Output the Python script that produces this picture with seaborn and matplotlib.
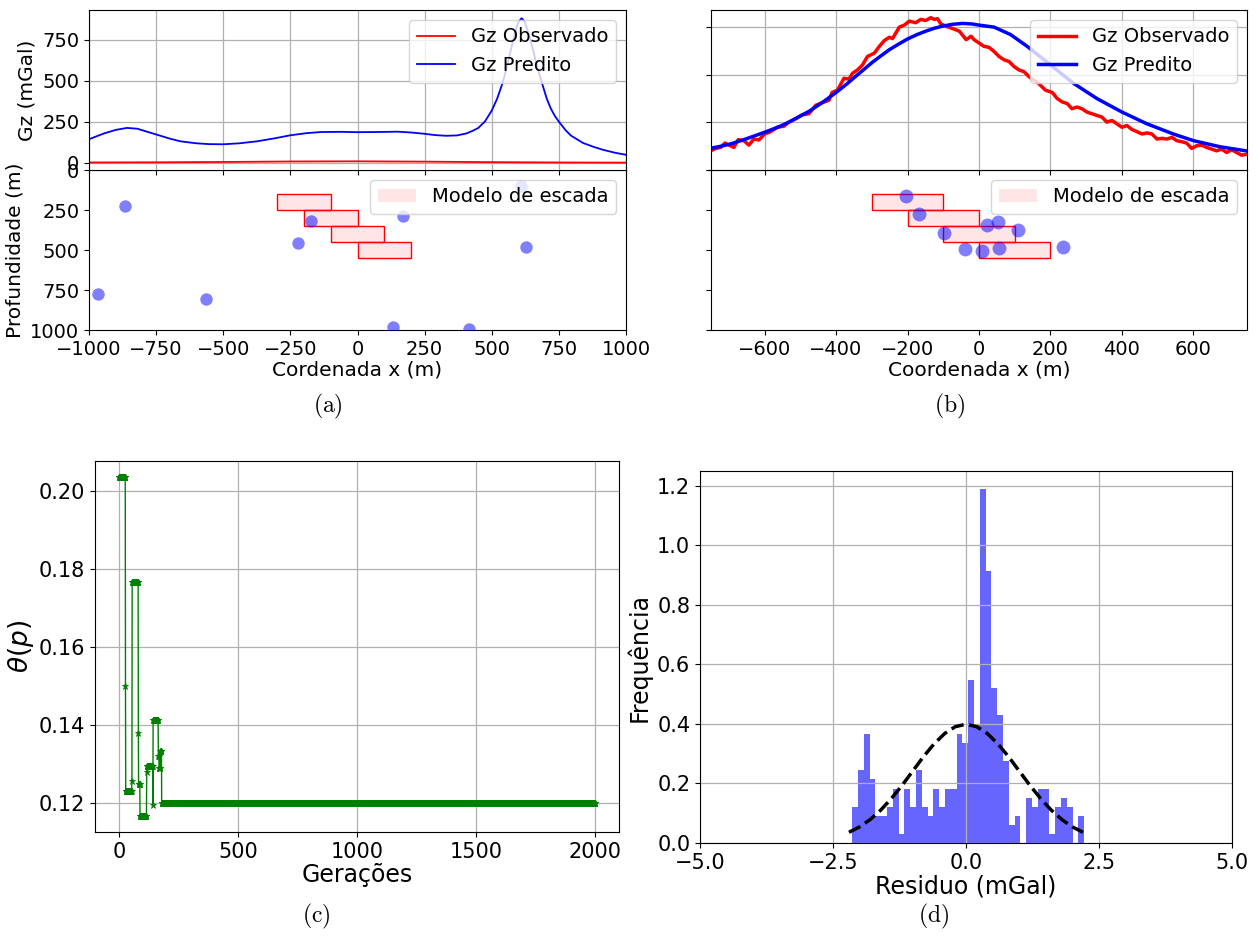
import numpy as np
import pandas as pd
import matplotlib
matplotlib.use('Agg')
import matplotlib.pyplot as plt
import seaborn as sns
from matplotlib.patches import Patch

# ---------------- (a) gravity profile, wide window ----------------
xa_pred = [-1000, -970, -943, -900, -859, -820, -750, -700, -659, -600, -553, -500,
           -440, -375, -310, -250, -190, -135, -60, 0, 75, 150, 200, 250, 290, 330,
           370, 405, 430, 450, 475, 500, 520, 540, 555, 570, 585, 598, 611, 622, 635,
           645, 658, 670, 690, 705, 720, 735, 750, 775, 795, 840, 880, 915, 960, 1000]
gz_pred_a = [143, 162, 179, 200, 212, 207, 172, 147, 130, 118, 113, 112,
             118, 130, 148, 167, 180, 187, 188, 186, 187, 189, 184, 176, 168, 164,
             166, 178, 195, 212, 252, 318, 390, 485, 575, 680, 785, 855, 882, 862, 800,
             745, 660, 580, 470, 390, 330, 285, 250, 198, 165, 120, 96, 78, 60, 48]
xa_obs = [-1000, -750, -500, -250, 0, 250, 500, 750, 1000]
gz_obs_a = [1, 2, 4, 7, 8, 6, 3, 1, 0]
xa_src = [-967, -866, -564, -222, -173, 169, 132, 415, 628, 609]
za_src = [777, 223, 809, 459, 318, 287, 981, 994, 484, 102]

# ---------------- (b) gravity profile, zoomed window ----------------
xb_pred = [-750, -720, -690, -650, -600, -560, -532, -476, -440, -400, -370, -345,
           -320, -298, -275, -251, -225, -200, -175, -149, -125, -102, -75, -46, -20,
           0, 42, 88, 135, 200, 265, 330, 400, 470, 544, 600, 674, 750]
gz_pred_b = [0.230, 0.252, 0.280, 0.330, 0.397, 0.455, 0.504, 0.617, 0.706, 0.816, 0.905, 0.986,
             1.065, 1.135, 1.200, 1.266, 1.325, 1.379, 1.423, 1.461, 1.492, 1.514, 1.533, 1.543, 1.537,
             1.525, 1.504, 1.426, 1.301, 1.106, 0.911, 0.752, 0.610, 0.486, 0.379, 0.309, 0.245, 0.200]
xb_obs = [-751, -737, -723, -711, -700, -686, -674, -658, -644, -630, -616, -600, -583, -564,
          -546, -532, -513, -494, -476, -457, -438, -420, -411, -396, -378, -364, -354, -340,
          -326, -312, -293, -279, -265, -251, -242, -223, -209, -195, -177, -163, -149, -135,
          -125, -116, -107, -93, -74, -55, -36, -22, -14, 0, 14, 28, 42, 56, 70, 84, 98, 112,
          126, 140, 153, 167, 186, 205, 219, 233, 247, 260, 274, 288, 302, 316, 330, 344, 358,
          372, 386, 400, 414, 428, 442, 456, 470, 484, 498, 512, 526, 540, 553, 567, 581, 595,
          609, 623, 637, 651, 665, 679, 693, 707, 721, 735, 750]
gz_obs_b = [0.202, 0.227, 0.238, 0.284, 0.262, 0.238, 0.319, 0.309, 0.262, 0.326, 0.316, 0.379,
            0.404, 0.450, 0.461, 0.504, 0.539, 0.582, 0.592, 0.681, 0.709, 0.734, 0.816, 0.840,
            0.965, 0.957, 1.018, 1.053, 1.106, 1.195, 1.230, 1.301, 1.362, 1.397, 1.383, 1.504,
            1.525, 1.567, 1.550, 1.585, 1.574, 1.603, 1.585, 1.592, 1.539, 1.514, 1.489, 1.461,
            1.372, 1.408, 1.372, 1.337, 1.301, 1.291, 1.248, 1.195, 1.160, 1.142, 1.089, 1.053,
            1.035, 0.982, 0.947, 0.911, 0.840, 0.816, 0.752, 0.716, 0.699, 0.645, 0.663, 0.645,
            0.610, 0.592, 0.574, 0.557, 0.504, 0.521, 0.486, 0.450, 0.468, 0.426, 0.404, 0.379,
            0.390, 0.379, 0.326, 0.333, 0.326, 0.344, 0.309, 0.298, 0.284, 0.227, 0.255, 0.262,
            0.238, 0.220, 0.202, 0.220, 0.184, 0.213, 0.184, 0.156, 0.167]
xb_src = [-203, -167, -98, -39, 7, 22, 53, 57, 108, 234]
zb_src = [162, 275, 392, 492, 508, 346, 323, 490, 377, 479]

# stair model (left edge, top depth, width, thickness)
step_x0 = [-300, -200, -100, 0]
step_top = [150, 250, 350, 450]
step_width = 200
step_thick = 100

# ---------------- (c) objective function per generation ----------------
gen_values = [0.2035, 0.150, 0.123, 0.1258, 0.1768, 0.138, 0.125, 0.1168, 0.128,
              0.1295, 0.1195, 0.1413, 0.132, 0.129, 0.1334, 0.1200]
gen_counts = [28, 1, 26, 1, 26, 1, 6, 28, 1, 25, 1, 22, 3, 5, 6, 1821]

# ---------------- (d) residual histogram ----------------
res_lo, res_hi = -2.14, 2.22
res_density = [0.121, 0.244, 0.365, 0.214, 0.092, 0.092, 0.121, 0.183, 0.031, 0.183,
               0.121, 0.244, 0.121, 0.092, 0.183, 0.121, 0.183, 0.183, 0.365, 0.335,
               0.549, 0.397, 1.190, 0.915, 0.520, 0.430, 0.275, 0.062, 0.092, 0.0,
               0.152, 0.121, 0.183, 0.183, 0.031, 0.121, 0.152, 0.121, 0.0, 0.092]
norm_x = [-2.2, -2.0, -1.8, -1.6, -1.4, -1.2, -1.0, -0.8, -0.6, -0.4, -0.2, 0.0,
          0.2, 0.4, 0.6, 0.8, 1.0, 1.2, 1.4, 1.6, 1.8, 2.0, 2.2]
norm_y = [0.036, 0.054, 0.079, 0.111, 0.150, 0.194, 0.242, 0.290, 0.333, 0.368, 0.391, 0.399,
          0.391, 0.368, 0.333, 0.290, 0.242, 0.194, 0.150, 0.111, 0.079, 0.054, 0.036]

W, H = 1258, 936
fig = plt.figure(figsize=(W / 100, H / 100), dpi=100)


def px_axes(l, t, r, b):
    return fig.add_axes([l / W, 1 - b / H, (r - l) / W, (b - t) / H])


grid_kw = dict(color='#b0b0b0', linewidth=0.9)
tick_fs = 14
lab_fs = 14.5
leg_fs = 14
box_fc = (1, 0, 0, 0.1)
model_handle = [Patch(facecolor=box_fc, edgecolor='none', label='Modelo de escada')]

# ---- panel (a) ----
axa2 = px_axes(89, 170, 626, 330)
axa1 = px_axes(89, 10, 626, 170)

sns.lineplot(x=xa_obs, y=gz_obs_a, ax=axa1, color='red', lw=1.3, label='Gz Observado')
sns.lineplot(x=xa_pred, y=gz_pred_a, ax=axa1, color='blue', lw=1.3, label='Gz Predito')
axa1.set_xlim(-1000, 1000)
axa1.set_ylim(-45, 932)
axa1.set_yticks([0, 250, 500, 750])
axa1.grid(True, **grid_kw)
axa1.tick_params(labelbottom=False, labelsize=tick_fs)
axa1.set_ylabel('Gz (mGal)', fontsize=lab_fs)
axa1.legend(loc='upper right', fontsize=leg_fs)

axa2.bar(step_x0, [step_thick] * len(step_x0), width=step_width, bottom=step_top,
         align='edge', color=box_fc, edgecolor='red', linewidth=1)
sns.scatterplot(x=xa_src, y=za_src, ax=axa2, color='blue', alpha=0.5, s=80,
                linewidth=0, zorder=3)
axa2.set_xlim(-1000, 1000)
axa2.set_ylim(1000, 0)
axa2.set_yticks([0, 250, 500, 750, 1000])
axa2.tick_params(labelsize=tick_fs)
axa2.set_xlabel('Cordenada x (m)', fontsize=lab_fs, labelpad=1)
axa2.set_ylabel('Profundidade (m)', fontsize=lab_fs)
axa2.legend(handles=model_handle, loc='upper right', fontsize=leg_fs)

# ---- panel (b) ----
axb2 = px_axes(711, 170, 1247, 330)
axb1 = px_axes(711, 10, 1247, 170)

sns.lineplot(x=xb_obs, y=gz_obs_b, ax=axb1, color='red', lw=2.5, label='Gz Observado')
sns.lineplot(x=xb_pred, y=gz_pred_b, ax=axb1, color='blue', lw=2.5, label='Gz Predito')
axb1.set_xlim(-750, 750)
axb1.set_ylim(0, 1.684)
axb1.set_yticks([0, 0.5, 1.0, 1.5])
axb1.grid(True, **grid_kw)
axb1.tick_params(labelbottom=False, labelleft=False)
axb1.set_ylabel('')
axb1.legend(loc='upper right', fontsize=leg_fs)

axb2.bar(step_x0, [step_thick] * len(step_x0), width=step_width, bottom=step_top,
         align='edge', color=box_fc, edgecolor='red', linewidth=1)
sns.scatterplot(x=xb_src, y=zb_src, ax=axb2, color='blue', alpha=0.5, s=100,
                linewidth=0, zorder=3)
axb2.set_xlim(-750, 750)
axb2.set_ylim(1000, 0)
axb2.set_yticks([0, 250, 500, 750, 1000])
axb2.tick_params(labelleft=False, labelsize=tick_fs)
axb2.set_xlabel('Coordenada x (m)', fontsize=lab_fs, labelpad=1)
axb2.set_ylabel('')
axb2.legend(handles=model_handle, loc='upper right', fontsize=leg_fs)

# ---- panel (c) ----
axc = px_axes(95, 461, 619, 832)
theta = np.repeat(gen_values, gen_counts)
gens = np.arange(len(theta))
conv = pd.DataFrame({'gen': gens, 'theta': theta})
sns.lineplot(data=conv, x='gen', y='theta', ax=axc, estimator=None, color='green',
             lw=1, marker='*', markersize=5, markeredgecolor='green', markeredgewidth=0.6)
axc.set_xlim(-100, 2100)
axc.set_ylim(0.1126, 0.2077)
axc.set_xticks([0, 500, 1000, 1500, 2000])
axc.grid(True, **grid_kw)
axc.tick_params(labelsize=15)
axc.set_xlabel('Gerações', fontsize=17, labelpad=1)
axc.set_ylabel(r'$\theta(p)$', fontsize=19, labelpad=2)

# ---- panel (d) ----
axd = px_axes(700, 471, 1232, 843)
edges = np.linspace(res_lo, res_hi, len(res_density) + 1)
hist_df = pd.DataFrame({'res': (edges[:-1] + edges[1:]) / 2, 'dens': res_density})
sns.histplot(data=hist_df, x='res', weights='dens', bins=edges.tolist(), ax=axd,
             color='blue', alpha=0.6, linewidth=0)
sns.lineplot(x=norm_x, y=norm_y, ax=axd, color='black', lw=2.5, linestyle='--')
axd.set_xlim(-5, 5)
axd.set_ylim(0, 1.25)
axd.set_xticks([-5, -2.5, 0, 2.5, 5])
axd.set_yticks([0, 0.2, 0.4, 0.6, 0.8, 1.0, 1.2])
axd.grid(True, **grid_kw)
axd.tick_params(labelsize=15)
axd.set_xlabel('Residuo (mGal)', fontsize=17, labelpad=1)
axd.set_ylabel('Frequência', fontsize=17)

# ---- sub-captions ----
for label, (cx, cy) in {'a': (328, 406), 'b': (950, 406), 'c': (316, 916), 'd': (934, 916)}.items():
    fig.text(cx / W, 1 - cy / H, r'$\mathrm{(' + label + r')}$', math_fontfamily='cm',
             fontsize=17, ha='center', va='center')

fig.savefig('out.png', dpi=100)
